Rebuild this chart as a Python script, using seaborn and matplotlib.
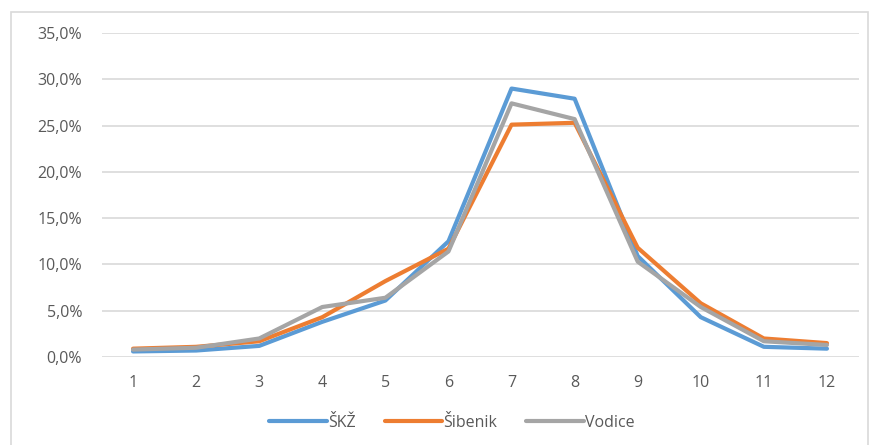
import matplotlib
matplotlib.use("Agg")
import pandas as pd
import matplotlib.pyplot as plt
import seaborn as sns
from matplotlib.ticker import FuncFormatter, MultipleLocator
from matplotlib.patches import Rectangle

# values (percent)
months = [1, 2, 3, 4, 5, 6, 7, 8, 9, 10, 11, 12]
skz = [0.6, 0.7, 1.2, 3.8, 6.1, 12.5, 29.0, 27.9, 10.9, 4.3, 1.1, 0.9]
sibenik = [0.9, 1.1, 1.7, 4.3, 8.2, 11.7, 25.1, 25.3, 11.8, 5.8, 2.0, 1.5]
vodice = [0.8, 1.0, 2.0, 5.4, 6.4, 11.4, 27.4, 25.7, 10.3, 5.4, 1.7, 1.3]
series_names = ["ŠKŽ", "Šibenik", "Vodice"]
colors = ["#5B9BD5", "#ED7D31", "#A5A5A5"]

df = pd.DataFrame({"month": months, "ŠKŽ": skz, "Šibenik": sibenik, "Vodice": vodice})
long_df = df.melt(id_vars="month", var_name="grad", value_name="udio")

sns.set_theme(style="white")
plt.rcParams["font.family"] = ["Open Sans", "DejaVu Sans"]

fig = plt.figure(figsize=(8.75, 4.45), dpi=100)
ax = fig.add_axes([101.5 / 875, 88 / 445, 757 / 875, 324 / 445])

# chart frame
fig.patches.append(Rectangle((11 / 875, -0.05), 857 / 875, 1.05 - 12 / 445,
                             transform=fig.transFigure, fill=False,
                             edgecolor="#d9d9d9", linewidth=1.2))

sns.lineplot(data=long_df, x="month", y="udio", hue="grad", hue_order=series_names,
             palette=colors, linewidth=3, ax=ax, legend=False)

ax.set_xlim(0.5, 12.5)
ax.set_ylim(0, 35)
ax.set_xticks(months)
ax.yaxis.set_major_locator(MultipleLocator(5))
ax.yaxis.set_major_formatter(FuncFormatter(lambda v, p: f"{v:.1f}%".replace(".", ",")))
ax.grid(axis="y", color="#d9d9d9", linewidth=1.2)
ax.set_axisbelow(True)
for s in ax.spines.values():
    s.set_visible(False)
ax.tick_params(length=0, labelsize=11.5, labelcolor="#595959")
ax.tick_params(axis="y", pad=14)
ax.tick_params(axis="x", pad=13)
ax.set_xlabel("")
ax.set_ylabel("")

handles = [plt.Line2D([], [], color=c, linewidth=3) for c in colors]
fig.legend(handles, series_names, loc="center", bbox_to_anchor=(452 / 875, 1 - 423 / 445),
           ncol=3, frameon=False, fontsize=11.5, labelcolor="#595959",
           handlelength=3.6, handletextpad=0.1, columnspacing=1.8)

fig.savefig("out.png", dpi=100)
